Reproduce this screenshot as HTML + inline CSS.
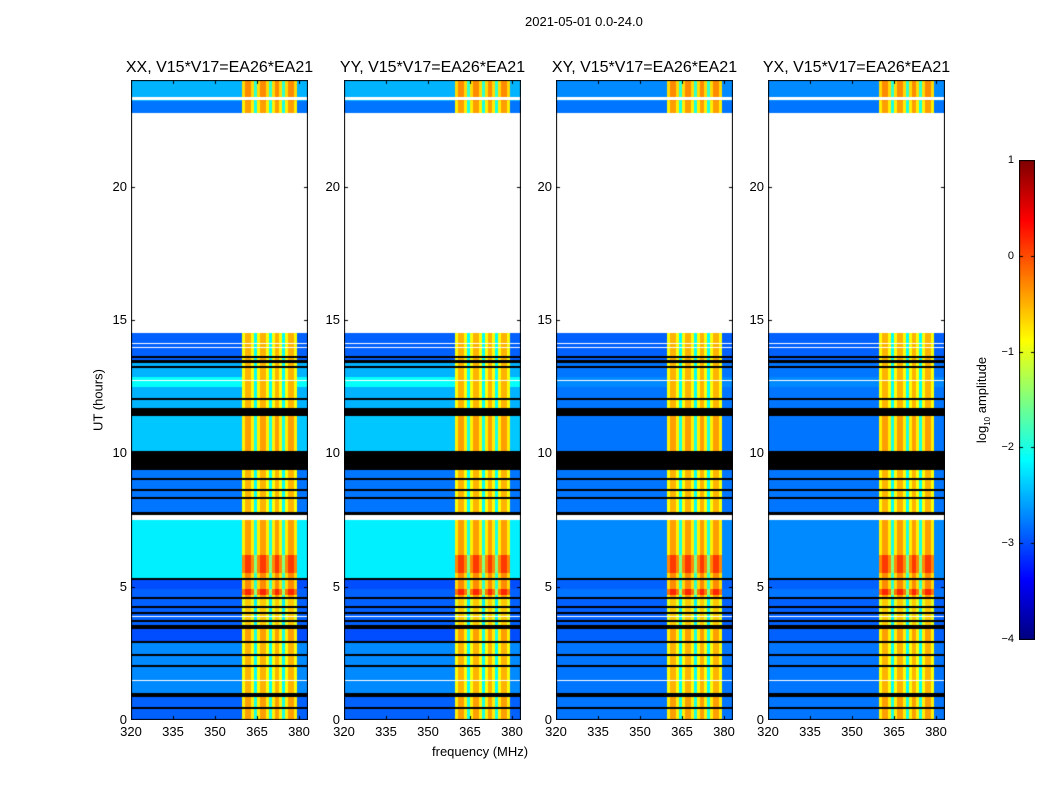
<!DOCTYPE html>
<html><head><meta charset="utf-8"><style>
body{margin:0;background:#fff;font-family:"Liberation Sans",sans-serif;}
#wrap{position:relative;width:1050px;height:800px;overflow:hidden;background:#fff;}
.t{position:absolute;font-size:13px;color:#000;white-space:nowrap;}
.pt{position:absolute;font-size:16px;color:#000;white-space:nowrap;}
canvas{position:absolute;}
</style></head><body>
<div id="wrap">
<div class="t" style="left:525px;top:14px">2021-05-01 0.0-24.0</div>
<div class="t" style="top:400px;transform:translate(-50%,-50%) rotate(-90deg);left:98px">UT (hours)</div>
<div class="t" style="left:432px;top:744px">frequency (MHz)</div>
<canvas id="cb" width="16" height="480" style="left:1019px;top:160px;"></canvas>
<div class="t" style="left:983px;top:400px;transform:translate(-50%,-50%) rotate(-90deg)">log<sub style="font-size:8px">10</sub> amplitude</div>
</div>
<script>
const panelTitles=["XX, V15*V17=EA26*EA21","YY, V15*V17=EA26*EA21","XY, V15*V17=EA26*EA21","YX, V15*V17=EA26*EA21"];
const panelIsCross=[false,false,true,true];
const xTicks=[320,335,350,365,380];
const yTicks=[0,5,10,15,20];
const cbTicks=[1,0,-1,-2,-3,-4];
// frequency channel groups: start MHz, end MHz, type (0 low,1 band core,2 gap,3 band edge)
const chanStart=[320,359.6,360.8,363,364,365,366,368.3,369.3,370.3,371.3,373,374,375,376,378.2,379.2];
const chanEnd  =[359.6,360.8,363,364,365,366,368.3,369.3,370.3,371.3,373,374,375,376,378.2,379.2,383.3];
const chanType =[0,3,1,3,2,3,1,3,2,3,1,3,2,3,1,3,0];
// time segments: start hr, end hr, low-band level (parallel / cross), band level
const segStart=[0,1.0,2.9,3.55,4.6,4.7,4.9,5.3,5.5,6.2,7.7,10.1,11.7,12.5,12.85,13.5,22.75,23.2];
const segEnd  =[1.0,2.9,3.4,4.6,4.7,4.9,5.3,5.5,6.2,7.5,9.4,11.4,12.5,12.85,13.5,14.5,23.2,24.0];
const segLow  =[-2.9,-2.7,-3.0,-2.9,-2.9,-2.9,-3.0,-2.2,-2.2,-2.2,-2.8,-2.4,-2.5,-2.1,-2.5,-2.9,-2.8,-2.5];
const segLowX =[-2.8,-2.8,-2.9,-2.9,-2.8,-2.8,-2.9,-2.7,-2.7,-2.7,-2.8,-2.8,-2.8,-2.7,-2.8,-2.9,-2.8,-2.7];
const segBand =[-0.4,-0.5,-0.4,-0.6,-0.4,0.2,-0.3,-0.3,0.1,-0.4,-0.5,-0.4,-0.5,-0.5,-0.5,-0.5,-0.4,-0.3];
// flagged rows
const blackStart=[0.42,0.85,2.0,2.4,2.9,3.4,3.7,4.0,4.2,4.55,5.28,7.7,8.3,8.6,9.0,9.4,9.8,10.0,11.4,12.0,13.2,13.4,13.6];
const blackEnd  =[0.5,1.0,2.06,2.46,2.96,3.55,3.76,4.06,4.26,4.62,5.34,7.8,8.36,8.66,9.06,10.1,9.86,10.08,11.7,12.06,13.26,13.5,13.66];
const whiteStart=[1.45,3.85,7.5,12.7,13.93,14.08,23.27];
const whiteEnd  =[1.5,3.9,7.7,12.75,13.98,14.13,23.37];

function jet(v){let t=(v+4)/5;t=Math.max(0,Math.min(1,t));
 const c=x=>Math.round(255*Math.max(0,Math.min(1,x)));
 return `rgb(${c(1.5-Math.abs(4*t-3))},${c(1.5-Math.abs(4*t-2))},${c(1.5-Math.abs(4*t-1))})`;}

const wrap=document.getElementById('wrap');
const lefts=[131,344,556,768],top0=80,W=177,H=640;
const xs=f=>(f-320)*2.8, ys=h=>(24-h)*(640/24);
lefts.forEach((L,p)=>{
 const cv=document.createElement('canvas');cv.width=W;cv.height=H;
 cv.style.left=L+'px';cv.style.top=top0+'px';
 
 
 wrap.appendChild(cv);
 const g=cv.getContext('2d');g.fillStyle='#fff';g.fillRect(0,0,W,H);
 for(let s=0;s<segStart.length;s++){
  const y0=Math.round(ys(segEnd[s])),y1=Math.round(ys(segStart[s]));
  const low=panelIsCross[p]?segLowX[s]:segLow[s];
  for(let c=0;c<chanStart.length;c++){
   const ty=chanType[c];
   let v=ty===0?low:ty===1?segBand[s]:ty===3?segBand[s]-0.4:segBand[s]-1.6;
   g.fillStyle=jet(v);
   const x0=Math.round(xs(chanStart[c])),x1=Math.round(xs(chanEnd[c]));
   g.fillRect(x0,y0,x1-x0,y1-y0);
  }
 }
 g.fillStyle='#000';
 for(let i=0;i<blackStart.length;i++){const y0=ys(blackEnd[i]),y1=ys(blackStart[i]);g.fillRect(0,Math.round(y0),W,Math.max(1,Math.round(y1-y0)));}
 g.fillStyle='#fff';
 for(let i=0;i<whiteStart.length;i++){const y0=ys(whiteEnd[i]),y1=ys(whiteStart[i]);g.fillRect(0,Math.round(y0),W,Math.max(1,Math.round(y1-y0)));}
 g.strokeStyle='#000';g.lineWidth=1;g.strokeRect(0.5,0.5,W-1,H-1);
 xTicks.forEach(f=>{const x=Math.round(xs(f))+0.5;g.beginPath();g.moveTo(x,0);g.lineTo(x,4);g.moveTo(x,H);g.lineTo(x,H-4);g.stroke();});
 yTicks.forEach(h=>{const y=Math.round(ys(h))+0.5;g.beginPath();g.moveTo(0,y);g.lineTo(4,y);g.moveTo(W,y);g.lineTo(W-4,y);g.stroke();});
 const tt=document.createElement('div');tt.className='pt';tt.textContent=panelTitles[p];
 tt.style.left=(L+W/2)+'px';tt.style.top='59px';tt.style.transform='translateX(-50%)';
 
 
 wrap.appendChild(tt);
 xTicks.forEach(f=>{const d=document.createElement('div');d.className='t';d.textContent=f;
  d.style.left=(L+xs(f))+'px';d.style.top='724px';d.style.transform='translateX(-50%)';
  
  
  wrap.appendChild(d);});
 yTicks.forEach(h=>{const d=document.createElement('div');d.className='t';d.textContent=h;
  d.style.right=(1050-L+4)+'px';d.style.top=(top0+ys(h)-8)+'px';
  
  
  wrap.appendChild(d);});
});
const cb=document.getElementById('cb').getContext('2d');
for(let y=0;y<480;y++){cb.fillStyle=jet(1-5*y/479);cb.fillRect(0,y,16,1);}
cb.strokeStyle='#000';cb.strokeRect(0.5,0.5,15,479);
cbTicks.forEach(v=>{const y=Math.round((1-v)/5*479)+0.5;cb.beginPath();cb.moveTo(0,y);cb.lineTo(4,y);cb.moveTo(16,y);cb.lineTo(12,y);cb.stroke();
 const d=document.createElement('div');d.className='t';d.style.fontSize='11px';d.textContent=v<0?'\u2212'+(-v):v;
 d.style.right=(1050-1014)+'px';d.style.top=(160+y-7)+'px';
 
 
 wrap.appendChild(d);});
</script>
</body></html>
